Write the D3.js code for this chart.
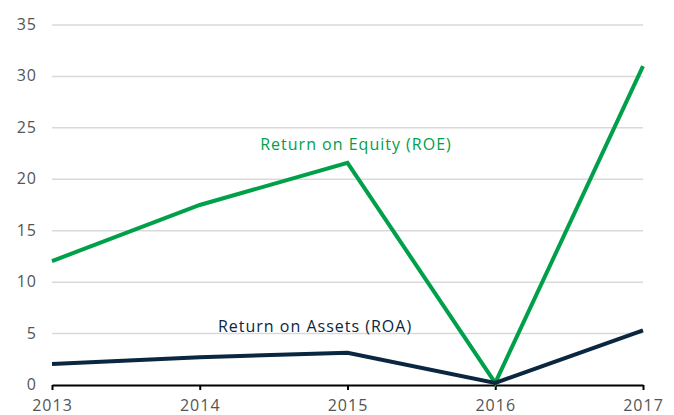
<!DOCTYPE html>
<html><head><meta charset="utf-8">
<script src="https://cdn.jsdelivr.net/npm/d3@7"></script>
<style>
body{margin:0;background:#fff;}
text{font-family:"Open Sans",sans-serif;}
</style></head>
<body><svg id="c" width="674" height="415"></svg>
<script>
const years = [2013, 2014, 2015, 2016, 2017];
const roe = [12.05, 17.5, 21.6, 0.2, 31.0];
const roa = [2.04, 2.7, 3.14, 0.2, 5.3];
const yTicks = [0, 5, 10, 15, 20, 25, 30, 35];
const roeLabel = "Return on Equity (ROE)";
const roaLabel = "Return on Assets (ROA)";

const svg = d3.select("#c");
const x = d3.scaleLinear().domain([2013, 2017]).range([52, 643]);
const y = d3.scaleLinear().domain([0, 35]).range([385, 25]);

// gridlines
svg.append("g").selectAll("line").data(yTicks.filter(d => d > 0)).join("line")
  .attr("x1", x(2013)).attr("x2", x(2017))
  .attr("y1", d => y(d)).attr("y2", d => y(d))
  .attr("stroke", "#d9d9d9").attr("stroke-width", 1.5);

// y labels
svg.append("g").selectAll("text").data(yTicks).join("text")
  .attr("x", 37).attr("y", d => y(d) + 5)
  .attr("text-anchor", "end").attr("font-size", 16).attr("fill", "#555")
  .attr("letter-spacing", 1)
  .text(d => d);

// x axis
const xAxis = d3.axisBottom(x).tickValues(years).tickFormat(d3.format("d")).tickSize(5).tickSizeOuter(0);
const gx = svg.append("g").attr("transform", `translate(0,${y(0)})`).call(xAxis);
gx.select(".domain").attr("stroke", "#000").attr("stroke-width", 2);
gx.selectAll(".tick line").attr("stroke", "#000").attr("stroke-width", 2);
gx.selectAll(".tick text").attr("font-size", 16).attr("fill", "#555").attr("dy", 0).attr("y", 26)
  .attr("letter-spacing", 1)
  .attr("font-family", "Open Sans, sans-serif");

const line = d3.line().x((d, i) => x(years[i])).y(d => y(d));
svg.append("path").datum(roe).attr("d", line).attr("fill", "none")
  .attr("stroke", "#00a04b").attr("stroke-width", 4).attr("stroke-linejoin", "miter");
svg.append("path").datum(roa).attr("d", line).attr("fill", "none")
  .attr("stroke", "#0b2640").attr("stroke-width", 4).attr("stroke-linejoin", "miter");

svg.append("text").attr("x", 356).attr("y", 150).attr("text-anchor", "middle")
  .attr("font-size", 16).attr("letter-spacing", 1).attr("fill", "#00a04b").text(roeLabel);
svg.append("text").attr("x", 315).attr("y", 332).attr("text-anchor", "middle")
  .attr("font-size", 16).attr("letter-spacing", 1).attr("fill", "#0b2640").text(roaLabel);
</script></body></html>
